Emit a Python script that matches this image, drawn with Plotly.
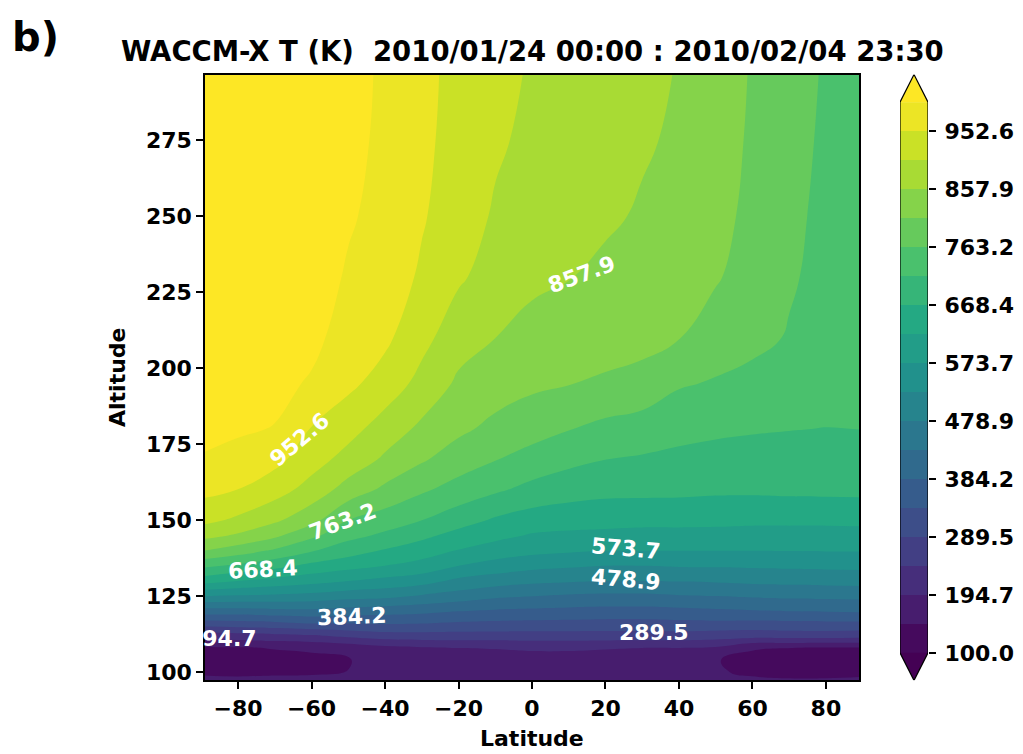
import plotly.graph_objects as go
from plotly.colors import sample_colorscale

W, H = 1023, 754

# ---------------- data ----------------
latitudes = [-89, -80, -70, -60, -50, -40, -30, -20, -10, 0, 10, 20, 30, 40, 50, 60, 70, 80, 89]
altitudes = [97.3, 100, 104, 108, 112, 116, 120, 125, 130, 135, 140, 145, 150,
             160, 170, 180, 195, 210, 230, 250, 275, 296.6]

# temperature profiles (K), one list per latitude, values at `altitudes`
temp_lat_m89 = [158, 140, 128, 142, 218, 313, 408, 526, 640, 725, 810, 872, 917, 965, 996, 1012, 1024, 1032, 1039, 1044, 1048, 1050]
temp_lat_m80 = [156, 138, 127, 144, 222, 318, 408, 521, 621, 707, 787, 852, 896, 952, 985, 1006, 1020, 1028, 1036, 1041, 1045, 1047]
temp_lat_m70 = [158, 140, 132, 150, 230, 325, 415, 516, 605, 684, 756, 820, 866, 925, 966, 998, 1013, 1022, 1030, 1035, 1039, 1041]
temp_lat_m60 = [158, 142, 136, 155, 237, 337, 418, 510, 590, 656, 720, 774, 826, 887, 925, 950, 995, 1012, 1022, 1027, 1030, 1032]
temp_lat_m50 = [160, 148, 145, 165, 254, 337, 410, 497, 574, 638, 690, 730, 763, 838, 888, 922, 963, 980, 995, 1005, 1012, 1015]
temp_lat_m40 = [165, 158, 160, 182, 268, 340, 402, 491, 559, 621, 664, 707, 740, 800, 850, 883, 933, 962, 978, 986, 991, 993]
temp_lat_m30 = [170, 165, 168, 190, 270, 337, 396, 473, 545, 605, 643, 680, 716, 770, 816, 848, 890, 920, 946, 957, 962, 964]
temp_lat_m20 = [172, 170, 172, 195, 270, 330, 384, 458, 515, 574, 619, 652, 689, 745, 787, 820, 850, 877, 912, 928, 937, 940]
temp_lat_m10 = [174, 172, 174, 197, 270, 326, 377, 440, 501, 555, 600, 634, 662, 723, 765, 798, 833, 858, 885, 900, 912, 918]
temp_lat_0 = [175, 173, 175, 202, 270, 324, 373, 432, 490, 540, 587, 617, 646, 702, 746, 781, 820, 845, 866, 883, 895, 901]
temp_lat_10 = [175, 173, 175, 202, 270, 322, 370, 425, 484, 533, 580, 612, 640, 689, 728, 765, 812, 835, 859, 872, 880, 885]
temp_lat_20 = [174, 172, 174, 198, 270, 320, 367, 422, 479, 526, 574, 610, 636, 682, 716, 750, 804, 830, 852, 862, 866, 868]
temp_lat_30 = [172, 170, 172, 195, 270, 320, 367, 422, 479, 526, 574, 607, 634, 681, 711, 740, 796, 824, 840, 855, 861, 862]
temp_lat_40 = [170, 168, 170, 195, 270, 323, 371, 428, 481, 530, 574, 607, 634, 680, 705, 730, 768, 812, 832, 847, 854, 857]
temp_lat_50 = [165, 152, 150, 190, 265, 325, 376, 431, 484, 531, 574, 607, 632, 677, 700, 724, 759, 788, 815, 826, 831, 833]
temp_lat_60 = [155, 140, 132, 152, 262, 322, 380, 437, 489, 533, 574, 605, 630, 677, 697, 720, 750, 775, 790, 798, 804, 807]
temp_lat_70 = [152, 134, 126, 148, 265, 325, 384, 440, 492, 535, 575, 605, 630, 679, 698, 717, 742, 760, 768, 771, 774, 776]
temp_lat_80 = [152, 133, 124, 144, 265, 327, 386, 442, 494, 537, 576, 605, 630, 680, 698, 715, 735, 745, 751, 755, 758, 760]
temp_lat_89 = [155, 136, 125, 145, 262, 327, 388, 444, 496, 538, 576, 605, 632, 680, 700, 716, 728, 736, 741, 744, 746, 748]

temp_by_lat = [temp_lat_m89, temp_lat_m80, temp_lat_m70, temp_lat_m60, temp_lat_m50,
               temp_lat_m40, temp_lat_m30, temp_lat_m20, temp_lat_m10, temp_lat_0,
               temp_lat_10, temp_lat_20, temp_lat_30, temp_lat_40, temp_lat_50,
               temp_lat_60, temp_lat_70, temp_lat_80, temp_lat_89]

# contour levels: 20 evenly spaced levels from 100 to 1000
level_min, level_max, n_levels = 100.0, 1000.0, 20
cbar_tick_labels = ["100.0", "194.7", "289.5", "384.2", "478.9",
                    "573.7", "668.4", "763.2", "857.9", "952.6"]
x_tick_values = [-80, -60, -40, -20, 0, 20, 40, 60, 80]
y_tick_values = [100, 125, 150, 175, 200, 225, 250, 275]

title_text = "WACCM-X T (K)  2010/01/24 00:00 : 2010/02/04 23:30"

# ---------------- derived ----------------
z = [[temp_by_lat[j][i] for j in range(len(latitudes))] for i in range(len(altitudes))]
step = (level_max - level_min) / (n_levels - 1)
levels = [level_min + i * step for i in range(n_levels)]
n_bands = n_levels - 1

viridis = [[0.0, "#440154"], [0.1, "#482475"], [0.2, "#414487"], [0.3, "#355f8d"],
           [0.4, "#2a788e"], [0.5, "#21918c"], [0.6, "#22a884"], [0.7, "#44bf70"],
           [0.8, "#7ad151"], [0.9, "#bddf26"], [1.0, "#fde725"]]
band_colors = sample_colorscale(viridis, [(k + 0.5) / n_bands for k in range(n_bands)])
under_color = sample_colorscale(viridis, [0.0])[0]
over_color = sample_colorscale(viridis, [1.0])[0]

region_colors = [under_color] + band_colors + [over_color]
nreg = len(region_colors) - 1
main_cs = []
for i, c in enumerate(region_colors):
    lo = max(0.0, (i - 0.5) / nreg)
    hi = min(1.0, (i + 0.5) / nreg)
    main_cs += [[lo, c], [hi, c]]

bar_cs = []
for k, c in enumerate(band_colors):
    bar_cs += [[k / n_bands, c], [(k + 1) / n_bands, c]]

FONT = "DejaVu Sans"
ext = 0.05 * (level_max - level_min)

fig = go.Figure()
fig.add_trace(go.Contour(
    x=latitudes, y=altitudes, z=z,
    colorscale=main_cs, showscale=False,
    contours=dict(start=level_min, end=level_max, size=step, coloring="fill", showlines=False),
    line=dict(width=0, smoothing=1.3),
    xaxis="x", yaxis="y", hoverinfo="skip",
))

# colorbar (drawn as its own small axis)
fig.add_trace(go.Heatmap(
    x=[0, 1], y=levels, z=[[k] for k in range(n_bands)],
    colorscale=bar_cs, zmin=-0.5, zmax=n_bands - 0.5, showscale=False,
    xaxis="x2", yaxis="y2", hoverinfo="skip",
))
fig.add_trace(go.Scatter(
    x=[0, 0.5, 1, 0], y=[level_max, level_max + ext, level_max, level_max],
    fill="toself", fillcolor=over_color, mode="lines", line=dict(width=0),
    xaxis="x2", yaxis="y2", showlegend=False, hoverinfo="skip", cliponaxis=False,
))
fig.add_trace(go.Scatter(
    x=[0, 0.5, 1, 0], y=[level_min, level_min - ext, level_min, level_min],
    fill="toself", fillcolor=under_color, mode="lines", line=dict(width=0),
    xaxis="x2", yaxis="y2", showlegend=False, hoverinfo="skip", cliponaxis=False,
))
fig.add_trace(go.Scatter(
    x=[0, 0, 0.5, 1, 1, 0.5, 0],
    y=[level_min, level_max, level_max + ext, level_max, level_min, level_min - ext, level_min],
    mode="lines", line=dict(color="black", width=1.2),
    xaxis="x2", yaxis="y2", showlegend=False, hoverinfo="skip", cliponaxis=False,
))

x0, x1 = 205 / W, 859 / W
y0, y1 = (H - 684) / H, (H - 75) / H

tickfont = dict(family=FONT, size=22, color="black", weight="bold")

fig.update_layout(
    width=W, height=H, margin=dict(l=0, r=0, t=0, b=0),
    paper_bgcolor="white", plot_bgcolor="white", showlegend=False,
    xaxis=dict(domain=[x0, x1], range=[-89, 89], tickvals=x_tick_values,
               ticktext=[("\u2212" + str(abs(v))) if v < 0 else str(v) for v in x_tick_values],
               ticks="outside", ticklen=7, tickwidth=1.5, tickcolor="black",
               showline=True, mirror=True, linecolor="black", linewidth=1.5,
               showgrid=False, zeroline=False, tickfont=tickfont, anchor="y"),
    yaxis=dict(domain=[y0, y1], range=[97.3, 296.6], tickvals=y_tick_values,
               ticks="outside", ticklen=7, tickwidth=1.5, tickcolor="black",
               showline=True, mirror=True, linecolor="black", linewidth=1.5,
               showgrid=False, zeroline=False, tickfont=tickfont, anchor="x"),
    xaxis2=dict(domain=[900 / W, 928 / W], range=[0, 1], visible=False, anchor="y2"),
    yaxis2=dict(domain=[y0, y1], range=[level_min - ext, level_max + ext], anchor="x2",
                side="right", tickvals=levels[::2], ticktext=cbar_tick_labels,
                ticks="outside", ticklen=7, tickwidth=1.5, tickcolor="black",
                ticklabelstandoff=4,
                showline=False, showgrid=False, zeroline=False, tickfont=tickfont),
)

annotations = [
    dict(text=title_text, x=(x0 + x1) / 2, y=1 - 51 / H, xref="paper", yref="paper",
         xanchor="center", yanchor="middle", showarrow=False,
         font=dict(family=FONT, size=27.5, color="black", weight="bold")),
    dict(text="b)", x=10 / W, y=1 - 37 / H, xref="paper", yref="paper",
         xanchor="left", yanchor="middle", showarrow=False,
         font=dict(family=FONT, size=40, color="black", weight="bold")),
    dict(text="Latitude", x=(x0 + x1) / 2, y=1 - 742 / H, xref="paper", yref="paper",
         xanchor="center", yanchor="middle", showarrow=False,
         font=dict(family=FONT, size=22, color="black", weight="bold")),
    dict(text="Altitude", x=118 / W, y=1 - 380 / H, xref="paper", yref="paper",
         xanchor="center", yanchor="middle", showarrow=False, textangle=-90,
         font=dict(family=FONT, size=22, color="black", weight="bold")),
]

# inline contour labels (position in data coords, rotation)
contour_labels = [
    ("194.7", -84.5, 111.1, 0),
    ("384.2", -49.0, 118.4, -2),
    ("668.4", -73.2, 133.8, -3),
    ("763.2", -51.4, 149.5, -20),
    ("952.6", -63.2, 176.4, -40),
    ("857.9", 13.5, 230.8, -20),
    ("573.7", 25.5, 140.6, 5),
    ("478.9", 25.5, 130.5, 5),
    ("289.5", 33.1, 113.1, 0),
]
for txt, lx, ly, ang in contour_labels:
    annotations.append(dict(text=txt, x=lx, y=ly, xref="x", yref="y", showarrow=False,
                            xanchor="center", yanchor="middle", textangle=ang,
                            font=dict(family=FONT, size=22, color="white", weight="bold")))

fig.update_layout(annotations=annotations)
fig.write_html("out.html")
